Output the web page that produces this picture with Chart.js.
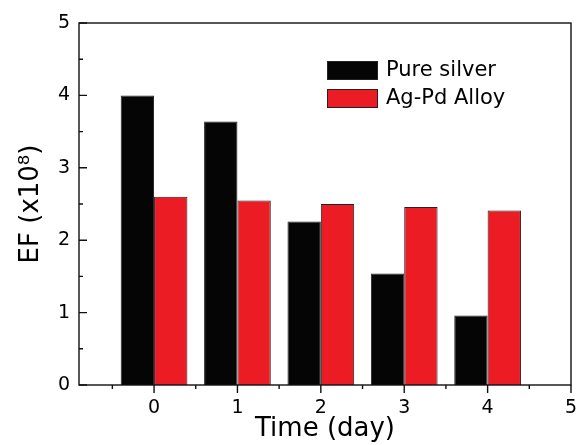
<!DOCTYPE html>
<html>
<head>
<meta charset="utf-8">
<script src="https://cdn.jsdelivr.net/npm/chart.js@4.4.0/dist/chart.umd.min.js"></script>
<style>
  html, body { margin: 0; padding: 0; background: #fff; }
  #wrap { width: 578px; height: 445px; }
</style>
</head>
<body>
<div id="wrap"><canvas id="efChart" width="578" height="445"></canvas></div>
<script>
// EF vs storage time for the two substrates
const days = [0, 1, 2, 3, 4];
const pureSilver = [4.0, 3.64, 2.26, 1.54, 0.96];
const agPdAlloy = [2.6, 2.55, 2.5, 2.46, 2.41];
const seriesNames = ['Pure silver', 'Ag-Pd Alloy'];
const yTicks = [0, 1, 2, 3, 4, 5];
const xTicks = [0, 1, 2, 3, 4, 5];

const FONT = "'DejaVu Sans', sans-serif";

// frame, inward y ticks, outward x ticks (with minor ticks)
const frameTicks = {
    id: 'frameTicks',
    afterDatasetsDraw(chart) {
        const { ctx, chartArea: a, scales: { x, y } } = chart;
        ctx.save();
        ctx.strokeStyle = '#111';
        ctx.lineWidth = 1.4;
        ctx.strokeRect(a.left, a.top, a.right - a.left, a.bottom - a.top);

        ctx.beginPath();
        yTicks.forEach((v, i) => {
            const py = y.getPixelForValue(v);
            ctx.moveTo(a.left, py); ctx.lineTo(a.left + 8, py);
            if (i < yTicks.length - 1) {
                const my = y.getPixelForValue(v + 0.5);
                ctx.moveTo(a.left, my); ctx.lineTo(a.left + 4, my);
            }
        });
        xTicks.forEach(v => {
            const px = x.getPixelForValue(v);
            ctx.moveTo(px, a.bottom); ctx.lineTo(px, a.bottom + 8);
            const mx = x.getPixelForValue(v - 0.5);
            ctx.moveTo(mx, a.bottom); ctx.lineTo(mx, a.bottom + 4);
        });
        ctx.stroke();
        ctx.restore();
    }
};

// legend drawn in the upper right of the plot
const boxLegend = {
    id: 'boxLegend',
    afterDraw(chart) {
        const { ctx } = chart;
        ctx.save();
        chart.data.datasets.forEach((ds, i) => {
            const bx = 327, by = 61 + i * 28;
            ctx.fillStyle = ds.backgroundColor;
            ctx.fillRect(bx, by, 51, 19);
            ctx.strokeStyle = '#222';
            ctx.lineWidth = 1;
            ctx.strokeRect(bx + 0.5, by + 0.5, 50, 18);
            ctx.fillStyle = '#000';
            ctx.font = '21px ' + FONT;
            ctx.textBaseline = 'middle';
            ctx.fillText(ds.label, 386, by + 10);
        });
        ctx.restore();
    }
};

const ctx = document.getElementById('efChart');
new Chart(ctx, {
    type: 'bar',
    data: {
        datasets: [
            {
                label: seriesNames[0],
                data: days.map((d, i) => ({ x: d, y: pureSilver[i] })),
                backgroundColor: '#050505',
                borderColor: '#222',
                borderWidth: 1
            },
            {
                label: seriesNames[1],
                data: days.map((d, i) => ({ x: d, y: agPdAlloy[i] })),
                backgroundColor: '#ec1c24',
                borderColor: '#222',
                borderWidth: 1
            }
        ]
    },
    options: {
        responsive: false,
        animation: false,
        categoryPercentage: 0.8,
        barPercentage: 1.0,
        layout: { padding: { top: 23, right: 7, left: 0, bottom: 0 } },
        plugins: {
            legend: { display: false },
            tooltip: { enabled: false }
        },
        scales: {
            x: {
                type: 'linear',
                offset: false,
                min: -0.9,
                max: 5,
                grid: { display: false, drawTicks: false },
                border: { display: false },
                afterBuildTicks: s => { s.ticks = xTicks.map(v => ({ value: v })); },
                afterFit: s => { s.height = 60; s.paddingLeft = 0; s.paddingRight = 0; },
                ticks: {
                    padding: 12,
                    color: '#000',
                    font: { family: FONT, size: 19 }
                },
                title: {
                    display: true,
                    text: 'Time (day)',
                    color: '#000',
                    font: { family: FONT, size: 26 },
                    padding: { top: 0, bottom: 0 }
                }
            },
            y: {
                min: 0,
                max: 5,
                grid: { display: false, drawTicks: false },
                border: { display: false },
                afterBuildTicks: s => { s.ticks = yTicks.map(v => ({ value: v })); },
                afterFit: s => { s.width = 79; s.paddingTop = 0; s.paddingBottom = 0; },
                ticks: {
                    padding: 9,
                    color: '#000',
                    font: { family: FONT, size: 19 }
                },
                title: {
                    display: true,
                    text: 'EF (x10⁸)',
                    color: '#000',
                    font: { family: FONT, size: 26 },
                    padding: { top: 16, bottom: 0 }
                }
            }
        }
    },
    plugins: [frameTicks, boxLegend]
});
</script>
</body>
</html>
